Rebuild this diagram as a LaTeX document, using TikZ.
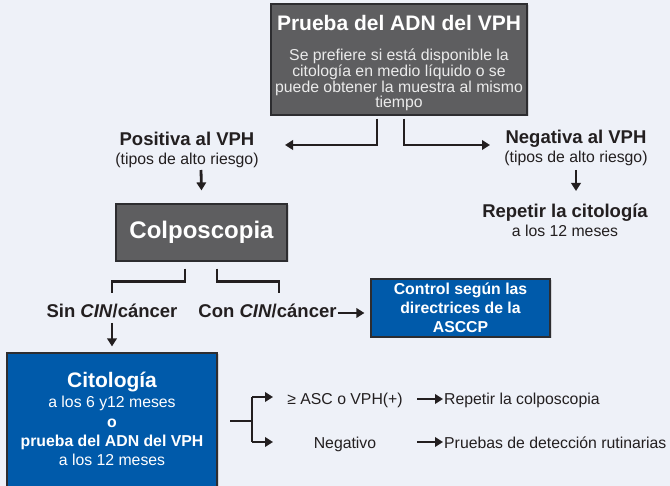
\documentclass[tikz,border=0pt]{standalone}
\usepackage{fontspec}
\setmainfont{Liberation Sans}
\usetikzlibrary{arrows.meta,shadows}
\definecolor{bg}{RGB}{238,241,248}
\definecolor{boxgray}{RGB}{94,94,96}
\definecolor{boxblue}{RGB}{0,90,170}
\definecolor{ink}{RGB}{35,31,32}
\definecolor{edge}{RGB}{45,45,48}
\newcommand\fB{\fontsize{18.5}{19}\selectfont\bfseries}
\newcommand\fS{\fontsize{15.8}{19}\selectfont}
\begin{document}
\begin{tikzpicture}[x=1pt,y=-1pt,
  box/.style={draw=edge, line width=1.2pt, inner sep=0pt,
    drop shadow={shadow xshift=1.5pt, shadow yshift=-1.5pt, opacity=0.25}},
  graybox/.style={box, fill=boxgray},
  bluebox/.style={box, fill=boxblue},
  ln/.style={draw=ink, line width=2.8pt},
  arr/.style={ln, -{Triangle[length=8pt,width=9.5pt]}},
  lbl/.style={inner sep=1pt, text=ink, align=center, font=\fS},
  wlbl/.style={inner sep=1pt, text=white, align=center}]
\fill[bg] (0,0) rectangle (670,486);
\useasboundingbox (0,0) rectangle (670,486);

% top box
\node[graybox, minimum width=256pt, minimum height=111pt] (top) at (399,59.5) {};
\node[wlbl, anchor=base, font=\fontsize{21}{24}\selectfont\bfseries] (toptitle) at (399,31) {Prueba del ADN del VPH};
\node[wlbl, anchor=base, font=\fontsize{15.8}{15.8}\selectfont, text=white!92!black] (topbody) at (399,108)
  {Se prefiere si está disponible la\\citología en medio líquido o se\\puede obtener la muestra al mismo\\tiempo};

% positive / negative
\node[lbl, anchor=base] (pos) at (187,165) {{\fB Positiva al VPH}\\{\fS (tipos de alto riesgo)}};
\node[lbl, anchor=base] (neg) at (576,163) {{\fB Negativa al VPH}\\{\fS (tipos de alto riesgo)}};
\node[lbl, anchor=base] (rep) at (565,237) {{\fB Repetir la citología}\\{\fS a los 12 meses}};
\coordinate (posTip) at (285,145);
\coordinate (negTip) at (490,145);
\draw[arr] ([xshift=-22pt,yshift=-3pt]top.south) |- (posTip);
\draw[arr] ([xshift=5pt,yshift=-3pt]top.south) |- (negTip);

% colposcopia
\node[graybox, minimum width=171pt, minimum height=57pt, text=white,
  font=\fontsize{24}{28}\selectfont\bfseries] (colpo) at (201.5,232.5) {Colposcopia};
\draw[arr] (201,170) -- ([yshift=13pt]colpo.north);
\draw[arr] (576,170) -- (576,191);

% bracket under colposcopia
\node[lbl, anchor=base, font=\fB] (sin) at (112,318) {Sin \textit{CIN}/cáncer};
\node[lbl, anchor=base, font=\fB] (con) at (267.5,318) {Con \textit{CIN}/cáncer};
\draw[ln] ([xshift=-16.5pt,yshift=-7pt]colpo.south) -- ++(0,13) -| (112,293);
\draw[ln] ([xshift=15.5pt,yshift=-7pt]colpo.south) -- ++(0,13) -| (279,293);

% control box
\node[bluebox, minimum width=179pt, minimum height=58pt] (control) at (460.5,308) {};
\node[wlbl, anchor=base, font=\fontsize{15.8}{19}\selectfont\bfseries] (controltext) at (460.5,333)
  {Control según las\\directrices de la\\ASCCP};
\draw[arr] (con.east |- 0,313) -- ([xshift=-6pt]control.west |- 0,313);

% citologia box
\node[bluebox, minimum width=210pt, minimum height=142pt] (cito) at (112,424) {};
\node[wlbl, anchor=base, font=\fontsize{15.8}{19.5}\selectfont] (citotext) at (112,466)
  {{\fontsize{21}{19.5}\selectfont\bfseries Citología}\\a los 6 y12 meses\\\textbf{o}\\\textbf{prueba del ADN del VPH}\\a los 12 meses};
\draw[arr] (112,323) -- ([yshift=6pt]cito.north);

% follow-up bracket
\coordinate (bj) at (252,421);
\draw[ln] (230,421) -- (bj);
\draw[arr] (252,397) -- (273,397);
\draw[arr] (252,442) -- (273,442);
\draw[ln] (252,397) -- (252,442);

\node[lbl, anchor=base] (asc) at (345,405) {≥ ASC o VPH(+)};
\node[lbl, anchor=base] (negat) at (345,449) {Negativo};
\node[lbl, anchor=base west] (repc) at (443,405) {Repetir la colposcopia};
\node[lbl, anchor=base west] (rut) at (443,449) {Pruebas de detección rutinarias};
\draw[arr] (417,399) -- (repc.west |- 0,399);
\draw[arr] (417,442) -- (rut.west |- 0,442);
\end{tikzpicture}
\end{document}
